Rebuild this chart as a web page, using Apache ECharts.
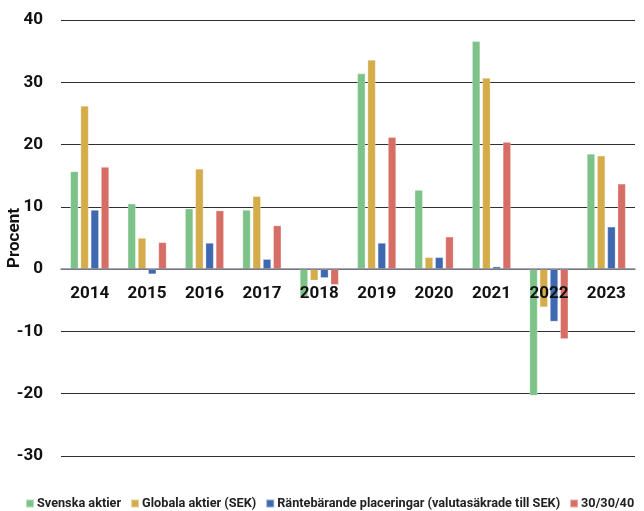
<!DOCTYPE html>
<html>
<head>
<meta charset="utf-8">
<script src="https://cdn.jsdelivr.net/npm/echarts@6/dist/echarts.min.js"></script>
<style>
  html, body { margin: 0; padding: 0; background: #fff; }
  #chart { width: 644px; height: 511px; }
</style>
</head>
<body>
<div id="chart"></div>
<script>
// Årlig avkastning per tillgångsslag, procent
const years = ['2014', '2015', '2016', '2017', '2018', '2019', '2020', '2021', '2022', '2023'];
const svenskaAktier = [15.7, 10.5, 9.7, 9.5, -4.4, 31.4, 12.7, 36.6, -20.3, 18.5];
const globalaAktier = [26.2, 5.0, 16.1, 11.7, -1.8, 33.6, 1.9, 30.7, -6.1, 18.2];
const rantebarande = [9.5, -0.8, 4.2, 1.6, -1.4, 4.2, 1.9, 0.4, -8.4, 6.8];
const blandad = [16.4, 4.3, 9.4, 7.0, -2.5, 21.2, 5.2, 20.4, -11.2, 13.7];
const seriesNames = ['Svenska aktier', 'Globala aktier (SEK)', 'Räntebärande placeringar (valutasäkrade till SEK)', '30/30/40'];
const yTicks = { min: -30, max: 40, step: 10 };

const colors = ['#7DC389', '#D4AC4A', '#3E68B0', '#D76E66'];
const fontFamily = 'Roboto, "Liberation Sans", sans-serif';

const chart = echarts.init(document.getElementById('chart'));

const makeBar = (name, data, i) => ({
  name: name,
  type: 'bar',
  data: data,
  barWidth: 8,
  barGap: '28%',
  itemStyle: { color: colors[i], borderColor: 'rgba(255,255,255,0.45)', borderWidth: 0.6 }
});

const grid = { left: 61, right: 9, top: 20, bottom: 55, containLabel: false, outerBoundsMode: 'none' };

chart.setOption({
  animation: false,
  color: colors,
  grid: grid,
  legend: {
    top: 492,
    left: 20,
    width: 640,
    itemWidth: 8,
    itemHeight: 8,
    itemGap: 9,
    icon: 'rect',
    textStyle: { fontFamily: fontFamily, fontWeight: 'bold', fontSize: 12.7, color: '#222', padding: [0, 0, 0, -2] },
    data: seriesNames
  },
  xAxis: {
    type: 'category',
    data: years,
    z: 5,
    axisLine: { onZero: false, lineStyle: { color: '#8a8a96', width: 1.5 } },
    axisTick: { show: false },
    axisLabel: { fontFamily: fontFamily, fontWeight: 'bold', fontSize: 17, color: '#111', margin: 16 }
  },
  yAxis: {
    type: 'value',
    min: yTicks.min,
    max: yTicks.max,
    interval: yTicks.step,
    name: 'Procent',
    nameLocation: 'middle',
    nameGap: 38,
    nameRotate: 90,
    nameMoveOverlap: false,
    nameTextStyle: { fontFamily: fontFamily, fontWeight: 'bold', fontSize: 17, color: '#111' },
    axisLine: { show: false },
    axisTick: { show: false },
    axisLabel: { fontFamily: fontFamily, fontWeight: 'bold', fontSize: 17, color: '#111', margin: 18 },
    splitLine: { lineStyle: { color: '#2e2e3c', width: 1 } }
  },
  series: [
    makeBar(seriesNames[0], svenskaAktier, 0),
    makeBar(seriesNames[1], globalaAktier, 1),
    makeBar(seriesNames[2], rantebarande, 2),
    makeBar(seriesNames[3], blandad, 3)
  ]
});

// Move the category axis (line and year labels) up to the zero line of the value axis
const zeroY = chart.convertToPixel({ yAxisIndex: 0 }, 0);
const bottomY = chart.convertToPixel({ yAxisIndex: 0 }, yTicks.min);
chart.setOption({ xAxis: { offset: -(bottomY - zeroY) } });
</script>
</body>
</html>
